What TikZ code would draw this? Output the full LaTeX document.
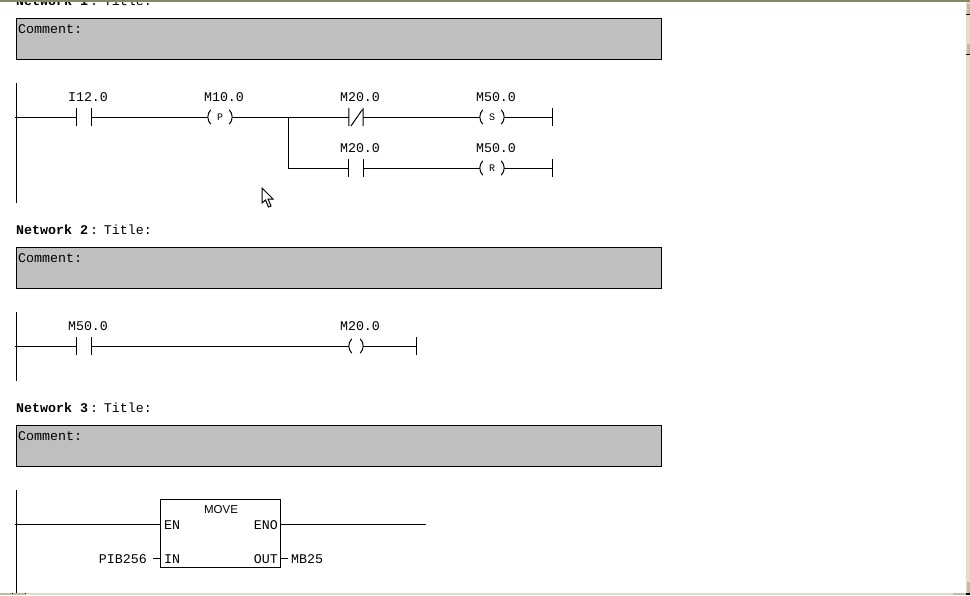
\documentclass[tikz,border=0pt]{standalone}
\usepackage{fontspec}
\setmonofont{Liberation Mono}
\setsansfont{Liberation Sans}
\usetikzlibrary{positioning}

\definecolor{framedark}{RGB}{136,135,100}
\definecolor{framelight}{RGB}{224,223,206}
\definecolor{framemid}{RGB}{190,189,160}

\tikzset{
  wire/.style={line width=1pt},
  commentbox/.style={draw, line width=1pt, fill=black!25, anchor=north west, minimum width=645pt, minimum height=41pt, inner sep=0pt},
  txt/.style={font=\fontsize{13.3}{14}\ttfamily, inner sep=0pt},
  addr/.style={txt, xshift=4pt},
  contact/.style={minimum width=14pt, minimum height=18pt, inner sep=0pt,
    append after command={\pgfextra{\draw[wire] (\tikzlastnode.north west) -- (\tikzlastnode.south west)
      (\tikzlastnode.north east) -- (\tikzlastnode.south east);}}},
  ncontact/.style={minimum width=14pt, minimum height=18pt, inner sep=0pt,
    append after command={\pgfextra{\draw[wire] (\tikzlastnode.north west) -- (\tikzlastnode.south west)
      (\tikzlastnode.north east) -- (\tikzlastnode.south east)
      ([shift={(2pt,0pt)}]\tikzlastnode.south west) -- ([shift={(-1pt,-2pt)}]\tikzlastnode.north east);}}},
  coil/.style={minimum width=24pt, minimum height=14pt, inner sep=0pt, font=\fontsize{10}{10}\ttfamily,
    append after command={\pgfextra{\draw[wire] ([xshift=3pt]\tikzlastnode.north west) to[bend right=45] ([xshift=3pt]\tikzlastnode.south west)
      ([xshift=-3pt]\tikzlastnode.north east) to[bend left=45] ([xshift=-3pt]\tikzlastnode.south east);}}},
  endbar/.style={minimum width=0pt, minimum height=18pt, inner sep=0pt,
    append after command={\pgfextra{\draw[wire] (\tikzlastnode.north) -- (\tikzlastnode.south);}}},
  block/.style={draw, line width=1pt, minimum width=120pt, minimum height=68pt, inner sep=0pt},
  scrollbtn/.style={fill=framemid, draw=framelight, line width=1pt}
}
\newcommand{\nettitle}[1]{\textbf{Network #1}\hspace{-6pt} : \hspace{-2pt}Title:}

\begin{document}
\begin{tikzpicture}[x=1pt, y=-1pt]
\useasboundingbox (0,0) rectangle (970,595);

% network 1
\begin{scope}
\clip (0,2) rectangle (970,20);
\node[txt, anchor=base west] (title1) at (16,5.5) {\nettitle{1}};
\end{scope}
\node[commentbox] (comment1) at (16,18) {};
\node[txt, anchor=base west] (ctext1) at (18,33) {Comment:};
\coordinate (railtop1) at (16.5,83);
\coordinate (railbot1) at (16.5,203);
\coordinate (railin1) at (15,117);
\draw[wire] (railtop1) -- (railbot1);
\node[contact] (i12) at (84,117) {};
\node[addr, above=6pt of i12] (i12lbl) {I12.0};
\node[coil] (m10) at (220,117) {P};
\node[addr, above=8pt of m10] (m10lbl) {M10.0};
\coordinate (branch) at (288.5,117);
\node[ncontact] (m20a) at (356,117) {};
\node[addr, above=6pt of m20a] (m20albl) {M20.0};
\node[coil] (m50a) at (492,117) {S};
\node[addr, above=8pt of m50a] (m50albl) {M50.0};
\node[endbar] (enda) at (552.5,117) {};
\node[contact] (m20b) at (356,168) {};
\node[addr, above=6pt of m20b] (m20blbl) {M20.0};
\node[coil] (m50b) at (492,168) {R};
\node[addr, above=8pt of m50b] (m50blbl) {M50.0};
\node[endbar] (endb) at (552.5,168) {};
\draw[wire] (railin1) -- (i12);
\draw[wire] (i12) -- (m10);
\draw[wire] (m10) -- (m20a);
\draw[wire] (m20a) -- (m50a);
\draw[wire] (m50a) -- (enda);
\draw[wire] (branch) |- (m20b);
\draw[wire] (m20b) -- (m50b);
\draw[wire] (m50b) -- (endb);

% network 2
\node[txt, anchor=base west] (title2) at (16,234.5) {\nettitle{2}};
\node[commentbox] (comment2) at (16,247) {};
\node[txt, anchor=base west] (ctext2) at (18,262) {Comment:};
\coordinate (railtop2) at (16.5,312);
\coordinate (railbot2) at (16.5,381);
\coordinate (railin2) at (15,346);
\draw[wire] (railtop2) -- (railbot2);
\node[contact] (m50c) at (84,346) {};
\node[addr, above=6pt of m50c] (m50clbl) {M50.0};
\node[coil, minimum width=14pt] (m20c) at (356,346) {};
\node[addr, above=8pt of m20c] (m20clbl) {M20.0};
\node[endbar] (endc) at (416.5,346) {};
\draw[wire] (railin2) -- (m50c);
\draw[wire] (m50c) -- (m20c);
\draw[wire] (m20c) -- (endc);

% network 3
\node[txt, anchor=base west] (title3) at (16,412.5) {\nettitle{3}};
\node[commentbox] (comment3) at (16,425) {};
\node[txt, anchor=base west] (ctext3) at (18,440) {Comment:};
\coordinate (railtop3) at (16.5,490);
\coordinate (railbot3) at (16.5,593);
\coordinate (railin3) at (15,524);
\draw[wire] (railtop3) -- (railbot3);
\node[block] (move) at (220.5,533.5) {};
\node[font=\fontsize{11.5}{12}\sffamily, inner sep=0pt, anchor=base] (movelbl) at (221,513) {MOVE};
\node[txt, anchor=base west] (en) at (164,529) {EN};
\node[txt, anchor=base west] (in) at (164,563) {IN};
\node[txt, anchor=base east] (eno) at (278,529) {ENO};
\node[txt, anchor=base east] (out) at (278,563) {OUT};
\node[txt, anchor=base east] (pib) at (147,563) {PIB256};
\node[txt, anchor=base west] (mb) at (291,563) {MB25};
\coordinate (enoend) at (426,524);
\coordinate (enin) at (160,524);
\coordinate (enoout) at (281,524);
\coordinate (inin) at (160,558.5);
\coordinate (instub) at (153,558.5);
\coordinate (outout) at (281,558.5);
\coordinate (outstub) at (288,558.5);
\draw[wire] (railin3) -- (enin);
\draw[wire] (enoout) -- (enoend);
\draw[wire] (instub) -- (inin);
\draw[wire] (outout) -- (outstub);

% screen edges and pointer
\fill[framedark] (0,0) rectangle (970,2);
\fill[framelight] (0,593) rectangle (970,595);
\fill[framemid] (0,593) rectangle (26,595);
\fill[framemid] (953,593) rectangle (966,595);
\fill[framelight] (966,2) rectangle (970,595);
\fill[scrollbtn] (966.5,3) rectangle (970,14);
\fill[scrollbtn] (966.5,43) rectangle (970,54);
\fill[scrollbtn] (966.5,581) rectangle (970,593);
\fill (966,14) rectangle (970,15);
\fill (966,54) rectangle (970,55);
\fill (966,593) rectangle (970,595);
\fill (12,593) rectangle (13,594);
\fill (25,593) rectangle (26,594);
\draw[line width=1pt, fill=white] (262,188) -- (262,203) -- (265.5,200) -- (268.5,207) -- (271,206) -- (268,199) -- (273,199) -- cycle;
\end{tikzpicture}
\end{document}
